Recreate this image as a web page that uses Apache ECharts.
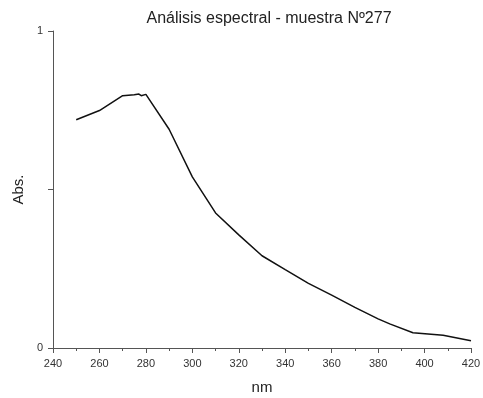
<!DOCTYPE html>
<html>
<head>
<meta charset="utf-8">
<script src="https://cdn.jsdelivr.net/npm/echarts@6/dist/echarts.min.js"></script>
<style>
  html, body { margin: 0; padding: 0; background: #fff; }
  #chart { width: 483px; height: 398px; }
</style>
</head>
<body>
<div id="chart"></div>
<script>
// wavelength (nm) and absorbance
const wavelengths = [250, 260, 270, 275, 277, 278, 280, 290, 300, 310, 320, 330, 340, 350, 360, 370, 380, 385, 395, 408, 420];
const absorbance = [0.72, 0.749, 0.796, 0.799, 0.801, 0.796, 0.80, 0.69, 0.54, 0.426, 0.357, 0.291, 0.247, 0.204, 0.167, 0.128, 0.092, 0.076, 0.048, 0.040, 0.023];
const yLabels = [0, 1];

const myChart = echarts.init(document.getElementById('chart'));
myChart.setOption({
    animation: false,
    textStyle: { fontFamily: 'Liberation Sans, Arial, sans-serif' },
    title: {
        text: 'Análisis espectral - muestra Nº277',
        left: 264,
        textAlign: 'center',
        top: 6,
        textStyle: { fontSize: 16, fontWeight: 'normal', color: '#222' }
    },
    grid: { left: 53, right: 12, top: 31, bottom: 50, outerBoundsMode: 'none' },
    xAxis: {
        type: 'value',
        min: 240,
        max: 420,
        interval: 20,
        name: 'nm',
        nameLocation: 'middle',
        nameGap: 32,
        nameTextStyle: { fontSize: 15, color: '#222' },
        axisLine: { lineStyle: { color: '#555' } },
        axisTick: { length: 5, lineStyle: { color: '#555' } },
        minorTick: { show: true, splitNumber: 2, length: 3, lineStyle: { color: '#555' } },
        axisLabel: { fontSize: 11, color: '#333', margin: 10 },
        splitLine: { show: false }
    },
    yAxis: {
        type: 'value',
        min: 0,
        max: 1,
        interval: 0.5,
        name: 'Abs.',
        nameLocation: 'middle',
        nameRotate: 90,
        nameGap: 27,
        nameTextStyle: { fontSize: 15, color: '#222' },
        axisLine: { show: true, lineStyle: { color: '#555' } },
        axisTick: { show: true, length: 5, lineStyle: { color: '#555' } },
        axisLabel: {
            fontSize: 11,
            color: '#333',
            margin: 10,
            formatter(val) {
                return yLabels.indexOf(val) >= 0 ? String(val) : '';
            }
        },
        splitLine: { show: false }
    },
    series: [{
        type: 'line',
        data: wavelengths.map((w, i) => [w, absorbance[i]]),
        showSymbol: false,
        lineStyle: { color: '#111', width: 1.5 }
    }]
});
</script>
</body>
</html>
